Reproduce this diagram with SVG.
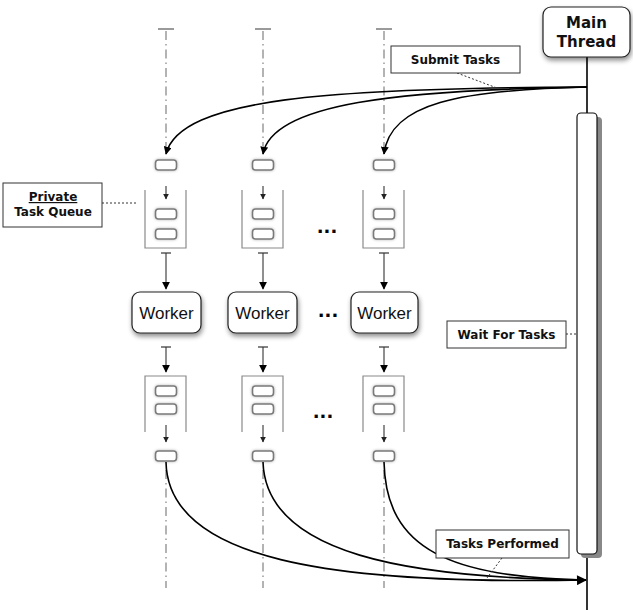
<svg xmlns="http://www.w3.org/2000/svg" width="633" height="610" viewBox="0 0 633 610">
  <style>
    .lifeline { stroke: #9a9a9a; stroke-width: 1.5; stroke-dasharray: 9 4 1.5 4; fill: none; }
    .tick { stroke: #9a9a9a; stroke-width: 2; }
    .task { fill: #ffffff; stroke: #7a7a7a; stroke-width: 1.6; }
    .queue { fill: none; stroke: #8a8a8a; stroke-width: 1.2; }
    .flow { fill: none; stroke: #000; stroke-width: 1.6; }
    .thin { fill: none; stroke: #333; stroke-width: 1.1; }
    .stub { stroke: #333; stroke-width: 1.2; }
    .note { fill: #fff; stroke: #333; stroke-width: 1; }
    .lead { stroke: #333; stroke-width: 1; stroke-dasharray: 2 2; fill: none; }
    .lbl { font-family: "DejaVu Sans", sans-serif; font-weight: bold; font-size: 12px; fill: #111; text-anchor: middle; }
    .wk { font-family: "Liberation Sans", Arial, sans-serif; font-size: 17px; fill: #111; text-anchor: middle; }
    .dots { font-family: "DejaVu Sans", sans-serif; font-weight: bold; font-size: 18px; fill: #000; text-anchor: middle; }
  </style>
  <defs>
    <marker id="ah" viewBox="0 0 10 10" refX="9" refY="5" markerWidth="8" markerHeight="8" markerUnits="userSpaceOnUse" orient="auto">
      <path d="M0,0 L10,5 L0,10 z" fill="#000"/>
    </marker>
    <marker id="ahs" viewBox="0 0 10 10" refX="9" refY="5" markerWidth="6" markerHeight="6" markerUnits="userSpaceOnUse" orient="auto">
      <path d="M0,0 L10,5 L0,10 z" fill="#222"/>
    </marker>
    <marker id="ahb" viewBox="0 0 10 10" refX="9" refY="5" markerWidth="12" markerHeight="10" markerUnits="userSpaceOnUse" orient="auto">
      <path d="M0,0 L10,5 L0,10 z" fill="#000"/>
    </marker>
    <filter id="soft" x="-30%" y="-30%" width="160%" height="180%">
      <feGaussianBlur in="SourceAlpha" stdDeviation="2.5"/>
      <feOffset dx="1" dy="3" result="b"/>
      <feComponentTransfer><feFuncA type="linear" slope="0.45"/></feComponentTransfer>
      <feMerge><feMergeNode/><feMergeNode in="SourceGraphic"/></feMerge>
    </filter>
    <filter id="glow" x="-40%" y="-60%" width="180%" height="220%">
      <feGaussianBlur in="SourceAlpha" stdDeviation="1.5"/>
      <feComponentTransfer><feFuncA type="linear" slope="0.3"/></feComponentTransfer>
      <feMerge><feMergeNode/><feMergeNode in="SourceGraphic"/></feMerge>
    </filter>
    <g id="taskbox"><rect x="-10.5" y="-5" width="21" height="10" rx="3" class="task"/></g>
  </defs>

  <!-- worker lifelines -->
  <g id="lifelines">
    <line class="tick" x1="158" y1="29" x2="174" y2="29"/>
    <line class="tick" x1="255" y1="29" x2="271" y2="29"/>
    <line class="tick" x1="376" y1="29" x2="392" y2="29"/>
    <path class="lifeline" d="M166,31 V150 M166,470 V588"/>
    <path class="lifeline" d="M263,31 V150 M263,470 V588"/>
    <path class="lifeline" d="M384,31 V150 M384,470 V588"/>
  </g>

  <!-- main thread -->
  <g id="main-thread">
    <line x1="587" y1="57" x2="587" y2="610" stroke="#000" stroke-width="1.6"/>
    <rect x="543" y="7" width="87" height="50" rx="8" fill="#fff" stroke="#222" stroke-width="1.2" filter="url(#soft)"/>
    <text x="586.5" y="28" font-family="DejaVu Sans, sans-serif" font-size="15" font-weight="bold" fill="#111" text-anchor="middle">Main</text>
    <text x="586.5" y="47" font-family="DejaVu Sans, sans-serif" font-size="15" font-weight="bold" fill="#111" text-anchor="middle">Thread</text>
  </g>
  <g id="activation">
    <rect x="581" y="117" width="21" height="441" rx="4" fill="#888"/>
    <rect x="577" y="113" width="20" height="441" rx="4" fill="#fff" stroke="#111" stroke-width="1.2"/>
  </g>

  <!-- worker columns -->
  <g id="column-1">
    <use href="#taskbox" x="166" y="165" filter="url(#glow)"/>
    <line class="thin" x1="166" y1="186" x2="166" y2="199" marker-end="url(#ahs)"/>
    <path class="queue" d="M145,190 V248 H186 V190"/>
    <use href="#taskbox" x="166" y="214" filter="url(#glow)"/>
    <use href="#taskbox" x="166" y="234" filter="url(#glow)"/>
    <line class="stub" x1="161" y1="253" x2="171" y2="253"/>
    <line class="thin" x1="166" y1="253" x2="166" y2="289" marker-end="url(#ah)"/>
  </g>
  <g id="column-2">
    <use href="#taskbox" x="263" y="165" filter="url(#glow)"/>
    <line class="thin" x1="263" y1="186" x2="263" y2="199" marker-end="url(#ahs)"/>
    <path class="queue" d="M242,190 V248 H283 V190"/>
    <use href="#taskbox" x="263" y="214" filter="url(#glow)"/>
    <use href="#taskbox" x="263" y="234" filter="url(#glow)"/>
    <line class="stub" x1="258" y1="253" x2="268" y2="253"/>
    <line class="thin" x1="263" y1="253" x2="263" y2="289" marker-end="url(#ah)"/>
  </g>
  <g id="column-3">
    <use href="#taskbox" x="384" y="165" filter="url(#glow)"/>
    <line class="thin" x1="384" y1="186" x2="384" y2="199" marker-end="url(#ahs)"/>
    <path class="queue" d="M363,190 V248 H404 V190"/>
    <use href="#taskbox" x="384" y="214" filter="url(#glow)"/>
    <use href="#taskbox" x="384" y="234" filter="url(#glow)"/>
    <line class="stub" x1="379" y1="253" x2="389" y2="253"/>
    <line class="thin" x1="384" y1="253" x2="384" y2="289" marker-end="url(#ah)"/>
  </g>
  <text class="dots" x="327" y="233">...</text>

  <!-- workers -->
  <g id="worker-1">
    <rect x="132" y="292" width="69" height="41" rx="8" fill="#fff" stroke="#222" stroke-width="1.2" filter="url(#soft)"/>
    <text class="wk" x="166.5" y="319">Worker</text>
  </g>
  <g id="worker-2">
    <rect x="228" y="292" width="69" height="41" rx="8" fill="#fff" stroke="#222" stroke-width="1.2" filter="url(#soft)"/>
    <text class="wk" x="262.5" y="319">Worker</text>
  </g>
  <g id="worker-3">
    <rect x="351" y="292" width="67" height="41" rx="8" fill="#fff" stroke="#222" stroke-width="1.2" filter="url(#soft)"/>
    <text class="wk" x="384.5" y="319">Worker</text>
  </g>
  <text class="dots" x="328" y="317">...</text>

  <!-- completed queues -->
  <g id="done-1">
    <line class="stub" x1="161" y1="347" x2="171" y2="347"/>
    <line class="thin" x1="166" y1="347" x2="166" y2="372" marker-end="url(#ah)"/>
    <path class="queue" d="M145,432 V376 H186 V432"/>
    <use href="#taskbox" x="166" y="391" filter="url(#glow)"/>
    <use href="#taskbox" x="166" y="409" filter="url(#glow)"/>
    <line class="thin" x1="166" y1="425" x2="166" y2="442" marker-end="url(#ahs)"/>
    <use href="#taskbox" x="166" y="456" filter="url(#glow)"/>
  </g>
  <g id="done-2">
    <line class="stub" x1="258" y1="347" x2="268" y2="347"/>
    <line class="thin" x1="263" y1="347" x2="263" y2="372" marker-end="url(#ah)"/>
    <path class="queue" d="M242,432 V376 H283 V432"/>
    <use href="#taskbox" x="263" y="391" filter="url(#glow)"/>
    <use href="#taskbox" x="263" y="409" filter="url(#glow)"/>
    <line class="thin" x1="263" y1="425" x2="263" y2="442" marker-end="url(#ahs)"/>
    <use href="#taskbox" x="263" y="456" filter="url(#glow)"/>
  </g>
  <g id="done-3">
    <line class="stub" x1="379" y1="347" x2="389" y2="347"/>
    <line class="thin" x1="384" y1="347" x2="384" y2="372" marker-end="url(#ah)"/>
    <path class="queue" d="M363,432 V376 H404 V432"/>
    <use href="#taskbox" x="384" y="391" filter="url(#glow)"/>
    <use href="#taskbox" x="384" y="409" filter="url(#glow)"/>
    <line class="thin" x1="384" y1="425" x2="384" y2="442" marker-end="url(#ahs)"/>
    <use href="#taskbox" x="384" y="456" filter="url(#glow)"/>
  </g>
  <text class="dots" x="323" y="418">...</text>

  <!-- submit / result connectors -->
  <g id="connectors">
    <path class="flow" d="M587,87 C330,88 180,98 166,154" marker-end="url(#ah)"/>
    <path class="flow" d="M587,87 C400,90 272,103 263,154" marker-end="url(#ah)"/>
    <path class="flow" d="M587,87 C460,90 390,103 384,154" marker-end="url(#ah)"/>
    <path class="flow" d="M166,462 C168,560 330,585 586,580" marker-end="url(#ahb)"/>
    <path class="flow" d="M263,462 C266,555 410,578 586,580"/>
    <path class="flow" d="M384,462 C386,550 450,577 586,580"/>
  </g>

  <!-- annotations -->
  <g id="note-submit">
    <line class="lead" x1="457" y1="73" x2="497" y2="88"/>
    <rect class="note" x="391" y="46" width="129" height="27"/>
    <text class="lbl" x="455.5" y="64">Submit Tasks</text>
  </g>
  <g id="note-queue">
    <line class="lead" x1="102" y1="203" x2="137" y2="203"/>
    <rect class="note" x="3" y="183" width="99" height="44"/>
    <text class="lbl" x="53" y="201" text-decoration="underline">Private</text>
    <text class="lbl" x="53" y="216">Task Queue</text>
  </g>
  <g id="note-wait">
    <line class="lead" x1="566" y1="334" x2="578" y2="334"/>
    <rect class="note" x="447" y="321" width="119" height="27"/>
    <text class="lbl" x="506.5" y="339">Wait For Tasks</text>
  </g>
  <g id="note-performed">
    <line class="lead" x1="502" y1="558" x2="487" y2="578"/>
    <rect class="note" x="436" y="530" width="133" height="28"/>
    <text class="lbl" x="502.5" y="548">Tasks Performed</text>
  </g>
</svg>
